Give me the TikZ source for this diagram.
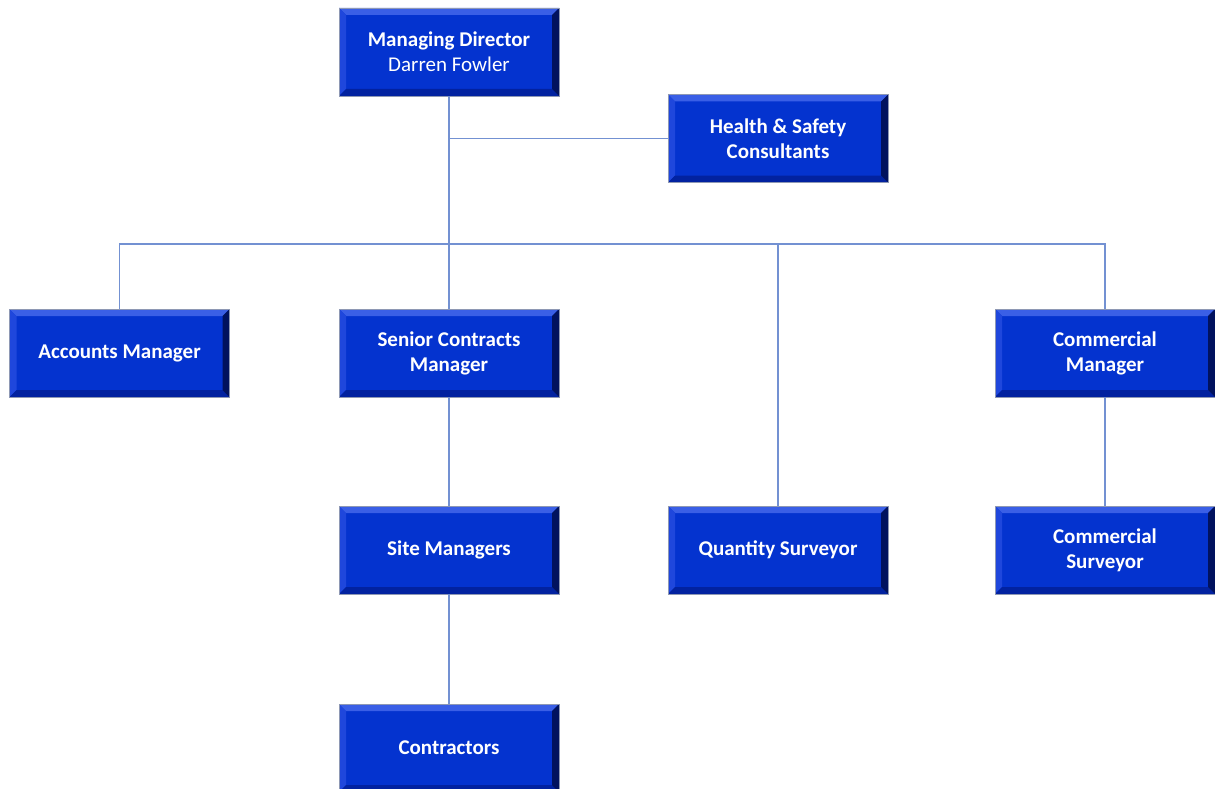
\documentclass[tikz,border=0pt]{standalone}
\usepackage{fontspec}
\setmainfont{Carlito}
\usepackage{tikz}
\usetikzlibrary{calc,positioning}
\definecolor{boxblue}{HTML}{0433CF}
\definecolor{bevtop}{HTML}{3A5FE6}
\definecolor{bevleft}{HTML}{1F47DC}
\definecolor{bevbot}{HTML}{0222A0}
\definecolor{bevright}{HTML}{01125E}
\definecolor{linkblue}{HTML}{7391D2}
\definecolor{rimgray}{HTML}{8E98B4}

\begin{document}
\begin{tikzpicture}[x=1pt,y=-1pt,
    post/.style={rectangle, fill=boxblue, draw=rimgray, line width=0.8pt,
      minimum width=220pt, minimum height=88pt, inner sep=0pt,
      text=white, align=center, font=\fontsize{21}{25}\selectfont,
      path picture={
        \coordinate (nw) at (path picture bounding box.north west);
        \coordinate (ne) at (path picture bounding box.north east);
        \coordinate (sw) at (path picture bounding box.south west);
        \coordinate (se) at (path picture bounding box.south east);
        \fill[bevtop] (nw) -- (ne) -- ($(ne)+(-7pt,-7pt)$) -- ($(nw)+(7pt,-7pt)$) -- cycle;
        \fill[bevleft] (nw) -- (sw) -- ($(sw)+(7pt,7pt)$) -- ($(nw)+(7pt,-7pt)$) -- cycle;
        \fill[bevbot] (sw) -- (se) -- ($(se)+(-7pt,7pt)$) -- ($(sw)+(7pt,7pt)$) -- cycle;
        \fill[bevright] (ne) -- (se) -- ($(se)+(-7pt,7pt)$) -- ($(ne)+(-7pt,-7pt)$) -- cycle;
      }},
    link/.style={draw=linkblue, line width=1.4pt}
	]
		\useasboundingbox (0,0) rectangle (1215,789);

		\node[post] (md) at (449,52) {\textbf{Managing Director}\\Darren Fowler};
		\node[post] (hs) at (778,138.5) {\textbf{Health \& Safety}\\\textbf{Consultants}};

		\node[post] (acc) at (119.5,353) {\textbf{Accounts Manager}};
		\node[post] (scm) at (449,353) {\textbf{Senior Contracts}\\\textbf{Manager}};
		\node[post] (cm) at (1105,353) {\textbf{Commercial}\\\textbf{Manager}};

		\node[post] (site) at (449,550) {\textbf{Site Managers}};
		\node[post] (qs) at (778,550) {\textbf{Quantity Surveyor}};
		\node[post] (cs) at (1105,550) {\textbf{Commercial}\\\textbf{Surveyor}};

		\node[post] (con) at (449,748) {\textbf{Contractors}};

		\coordinate (hub) at (449,244);

		% connectors
		\draw[link] (md.south) -- (hub);
		\draw[link] (md.south |- hs.west) -- (hs.west);
		\draw[link] (acc.north) -- (acc.north |- hub) -- (cm.north |- hub) -- (cm.north);
		\draw[link] (hub) -- (scm.north);
		\draw[link] (qs.north |- hub) -- (qs.north);
		\draw[link] (scm.south) -- (site.north);
		\draw[link] (site.south) -- (con.north);
		\draw[link] (cm.south) -- (cs.north);
	\end{tikzpicture}
\end{document}
